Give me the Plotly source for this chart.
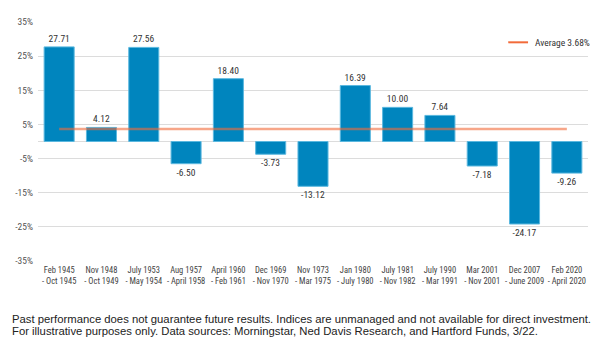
import plotly.graph_objects as go

periods_start = ["Feb 1945", "Nov 1948", "July 1953", "Aug 1957", "April 1960", "Dec 1969",
                 "Nov 1973", "Jan 1980", "July 1981", "July 1990", "Mar 2001", "Dec 2007", "Feb 2020"]
periods_end = ["Oct 1945", "Oct 1949", "May 1954", "April 1958", "Feb 1961", "Nov 1970",
               "Mar 1975", "July 1980", "Nov 1982", "Mar 1991", "Nov 2001", "June 2009", "April 2020"]
returns = [27.71, 4.12, 27.56, -6.50, 18.40, -3.73, -13.12, 16.39, 10.00, 7.64, -7.18, -24.17, -9.26]
average = 3.68
y_ticks = [-35, -25, -15, -5, 5, 15, 25, 35]

categories = [f"{a}<br>- {b}" for a, b in zip(periods_start, periods_end)]

COND = "Roboto Condensed, Roboto, sans-serif"

fig = go.Figure()
fig.add_trace(go.Bar(
    x=categories, y=returns,
    marker=dict(color="#0085BE", line=dict(color="#5BB8DF", width=1)),
    text=[f"{v:.2f}" for v in returns], textposition="outside",
    textfont=dict(family=COND, size=9.5, color="#333333"),
    cliponaxis=False, showlegend=False, hoverinfo="skip",
))
fig.add_trace(go.Scatter(
    x=[categories[0], categories[-1]], y=[average, average], mode="lines",
    line=dict(color="rgba(242,107,58,0.6)", width=2.5), showlegend=False, hoverinfo="skip",
))

# legend (drawn manually for exact look)
fig.add_shape(type="line", xref="paper", yref="paper", x0=0.855, x1=0.891, y0=0.915, y1=0.915,
              line=dict(color="#F26B3A", width=2))
fig.add_annotation(xref="paper", yref="paper", x=0.9, y=0.915, xanchor="left", yanchor="middle",
                   text=f"Average {average:.2f}%", showarrow=False,
                   font=dict(family=COND, size=9.5, color="#333333"))

foot = ["Past performance does not guarantee future results. Indices are unmanaged and not available for direct investment.",
        "For illustrative purposes only. Data sources: Morningstar, Ned Davis Research, and Hartford Funds, 3/22."]
for line, yp in zip(foot, [-0.2427, -0.2929]):
    fig.add_annotation(xref="paper", yref="paper", x=-0.051, y=yp, xanchor="left", yanchor="middle",
                       align="left", showarrow=False, text=line,
                       font=dict(family="Liberation Sans, Arial, sans-serif", size=11.3, color="#222222"))

fig.update_layout(
    width=605, height=363,
    margin=dict(l=38, r=17, t=22, b=102),
    plot_bgcolor="white", paper_bgcolor="white",
    bargap=0.29,
    xaxis=dict(showgrid=False, tickfont=dict(family=COND, size=8.5, color="#444444"),
               showline=False, ticks="", tickangle=0, automargin=False, ticklabelstandoff=2),
    yaxis=dict(range=[-35, 35], tickvals=y_ticks, ticktext=[f"{v}%" for v in y_ticks],
               gridcolor="#DCDCDC", gridwidth=1, zeroline=True, zerolinecolor="#DCDCDC", zerolinewidth=1,
               tickfont=dict(family=COND, size=9.5, color="#555555"), ticks="", ticklabelstandoff=4,
               automargin=False),
)

fig.write_html("out.html", config={"displayModeBar": False},
               post_script="document.body.style.margin='0';")
